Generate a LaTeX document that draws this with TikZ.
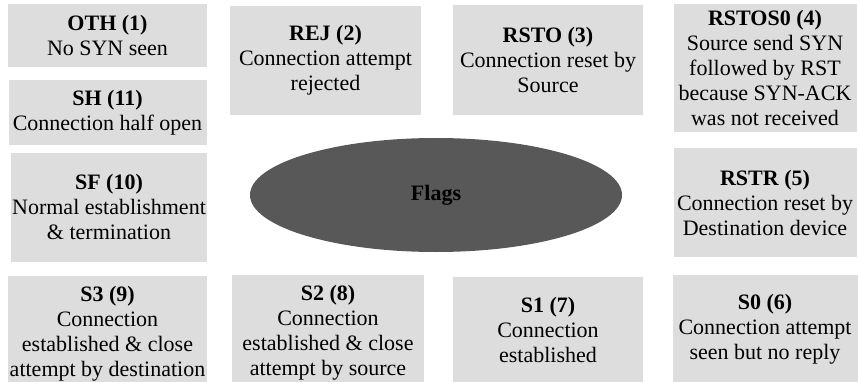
\documentclass[tikz,border=0pt]{standalone}
\usepackage{fontspec}
\setmainfont{Liberation Serif}
\usepackage{tikz}
\usetikzlibrary{positioning}
\usetikzlibrary{shapes.geometric}

\definecolor{boxgray}{RGB}{221,221,221}
\definecolor{flaggray}{RGB}{88,88,88}

\begin{document}
\begin{tikzpicture}[x=1pt, y=-1pt,
		flagbox/.style={rectangle, fill=boxgray, inner sep=0pt, align=center, font=\fontsize{22}{25}\selectfont}]
				\useasboundingbox (0,0) rectangle (858,382);
				\clip (0,0) rectangle (858,382);

				% left column
				\node[flagbox, minimum width=199pt, minimum height=63pt] (oth) at (107.5,35.5) {\textbf{OTH (1)}\\No SYN seen};
				\node[flagbox, minimum width=198pt, minimum height=65pt, below = 13pt of oth] (sh) {\textbf{SH (11)}\\Connection half open};
				\node[flagbox, minimum width=196pt, minimum height=109pt, below = 7pt of sh, xshift=1.5pt] (sf) {\textbf{SF (10)}\\Normal establishment\\\& termination};
				\node[flagbox, minimum width=199pt, minimum height=116pt, below = 14pt of sf, xshift=-1.5pt] (sthree) {\textbf{S3 (9)}\\Connection\\established \& close\\attempt by destination};

				% middle columns
				\node[flagbox, minimum width=191pt, minimum height=109pt] (rej) at (325.5,60.5) {\textbf{REJ (2)}\\Connection attempt\\rejected};
				\node[flagbox, minimum width=192pt, minimum height=116pt] (stwo) at (328,333) {\textbf{S2 (8)}\\Connection\\established \& close\\attempt by source};
				\node[flagbox, minimum width=190pt, minimum height=110pt] (rsto) at (548,60) {\textbf{RSTO (3)}\\Connection reset by\\Source};
				\node[flagbox, minimum width=190pt, minimum height=105pt] (sone) at (548,329.5) {\textbf{S1 (7)}\\Connection\\established};

				% right column
				\node[flagbox, minimum width=183pt, minimum height=128pt] (rstos0) at (765,68) {\textbf{RSTOS0 (4)}\\Source send SYN\\followed by RST\\because SYN-ACK\\was not received};
				\node[flagbox, minimum width=183pt, minimum height=109pt, below = 16pt of rstos0] (rstr) {\textbf{RSTR (5)}\\Connection reset by\\Destination device};
				\node[flagbox, minimum width=185pt, minimum height=108pt, below = 17pt of rstr] (szero) {\textbf{S0 (6)}\\Connection attempt\\seen but no reply};

				% centre
				\node[ellipse, fill=flaggray, minimum width=372pt, minimum height=114pt, font=\fontsize{22}{25}\selectfont\bfseries] (flags) at (436,195) {Flags};
			\end{tikzpicture}
\end{document}
